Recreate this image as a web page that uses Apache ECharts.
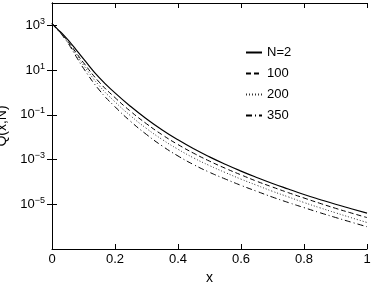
<!DOCTYPE html>
<html><head><meta charset="utf-8">
<script src="https://cdn.jsdelivr.net/npm/echarts@6/dist/echarts.min.js"></script>
<style>html,body{margin:0;padding:0;background:#fff}#c{width:374px;height:284px}</style>
</head><body><div id="c"></div>
<script>
const xValues = [0,0.02,0.04,0.06,0.08,0.1,0.15,0.2,0.25,0.3,0.35,0.4,0.45,0.5,0.55,0.6,0.65,0.7,0.75,0.8,0.85,0.9,0.95,1.0];
const qN2   = [1175,631,331,158,70.8,31.6,4.57,0.955,0.234,0.0661,0.0211,7.59e-3,3.02e-3,1.32e-3,6.17e-4,3.05e-4,1.58e-4,8.51e-5,4.79e-5,2.75e-5,1.64e-5,1.0e-5,6.31e-6,4.03e-6];
const qN100 = [1175,603,295,126,51.3,21.4,2.88,0.589,0.141,0.0398,0.01274,4.68e-3,1.905e-3,8.51e-4,4.07e-4,2.065e-4,1.07e-4,5.89e-5,3.31e-5,1.905e-5,1.11e-5,6.61e-6,4.07e-6,2.54e-6];
const qN200 = [1175,589,275,112,42.7,16.6,2.0,0.38,0.0891,0.0245,7.85e-3,2.88e-3,1.175e-3,5.37e-4,2.63e-4,1.33e-4,7.08e-5,3.8e-5,2.14e-5,1.2e-5,7.0e-6,4.17e-6,2.51e-6,1.53e-6];
const qN350 = [1175,575,263,100,33.9,12.0,1.29,0.229,0.0501,0.0132,4.03e-3,1.445e-3,5.89e-4,2.69e-4,1.35e-4,7.0e-5,3.8e-5,2.09e-5,1.2e-5,7.08e-6,4.22e-6,2.57e-6,1.585e-6,9.9e-7];
const seriesNames = ['N=2','100','200','350'];
const yTickValues = [1e-5,1e-3,1e-1,1e1,1e3];

const FONT = 'Liberation Sans, Arial, Helvetica, sans-serif';
const chart = echarts.init(document.getElementById('c'), null, {renderer:'canvas'});
function pairs(q){ return xValues.map((x,i)=>[x,q[i]]); }
function yFmt(v){
  const e = Math.round(Math.log10(v));
  return '{b|10}{s|' + (e < 0 ? '\u2212' + (-e) : String(e)) + '}';
}
const styles = [
  {type:'solid', width:1.2, color:'#000'},
  {type:[5,3], width:1, color:'#000'},
  {type:[1,2], width:1, color:'#333'},
  {type:[6,3,1,3], width:1, color:'#000'}
];
const datas = [qN2,qN100,qN200,qN350];
const xCommon = {type:'value', min:0, max:1, interval:0.2,
  axisLine:{show:true, lineStyle:{color:'#000', width:1}},
  axisTick:{show:true, inside:true, length:5, lineStyle:{color:'#000'}},
  splitLine:{show:false}};
const yCommon = {type:'log', logBase:10, min:1e-7, max:1e4,
  axisLine:{show:true, lineStyle:{color:'#000', width:1}},
  axisTick:{show:true, inside:true, length:5, customValues:yTickValues, lineStyle:{color:'#000'}},
  splitLine:{show:false}, minorTick:{show:false}};
chart.setOption({
  animation:false,
  backgroundColor:'#fff',
  grid:{left:52, right:7, top:3, bottom:35, containLabel:false, outerBoundsMode:'none'},
  legend:{
    orient:'vertical', left:240, top:41, itemWidth:16, itemHeight:14, itemGap:8,
    textStyle:{fontFamily:FONT, fontSize:13, color:'#000'},
    itemStyle:{opacity:0},
    data:seriesNames
  },
  xAxis:[
    Object.assign({}, xCommon, {position:'bottom',
      name:'x', nameLocation:'middle', nameGap:15,
      nameTextStyle:{fontFamily:FONT, fontSize:14, color:'#000'},
      axisLabel:{show:true, margin:4, fontFamily:FONT, fontSize:13, color:'#000'}}),
    Object.assign({}, xCommon, {position:'top', axisLabel:{show:false}})
  ],
  yAxis:[
    Object.assign({}, yCommon, {position:'left',
      name:'Q(x,N)', nameLocation:'middle', nameGap:36,
      nameTextStyle:{fontFamily:FONT, fontSize:14, color:'#000'},
      axisLabel:{show:true, margin:7, customValues:yTickValues, formatter:yFmt,
        rich:{b:{fontFamily:FONT, fontSize:13, color:'#000'},
              s:{fontFamily:FONT, fontSize:9, color:'#000', padding:[0,0,8,0]}}}}),
    Object.assign({}, yCommon, {position:'right', axisLabel:{show:false}})
  ],
  series: datas.map((d,i)=>({
    name:seriesNames[i], type:'line', xAxisIndex:0, yAxisIndex:0,
    data:pairs(d), symbol:'none', smooth:true,
    lineStyle:styles[i],
    itemStyle:{color:'#000'}
  }))
});
</script></body></html>
